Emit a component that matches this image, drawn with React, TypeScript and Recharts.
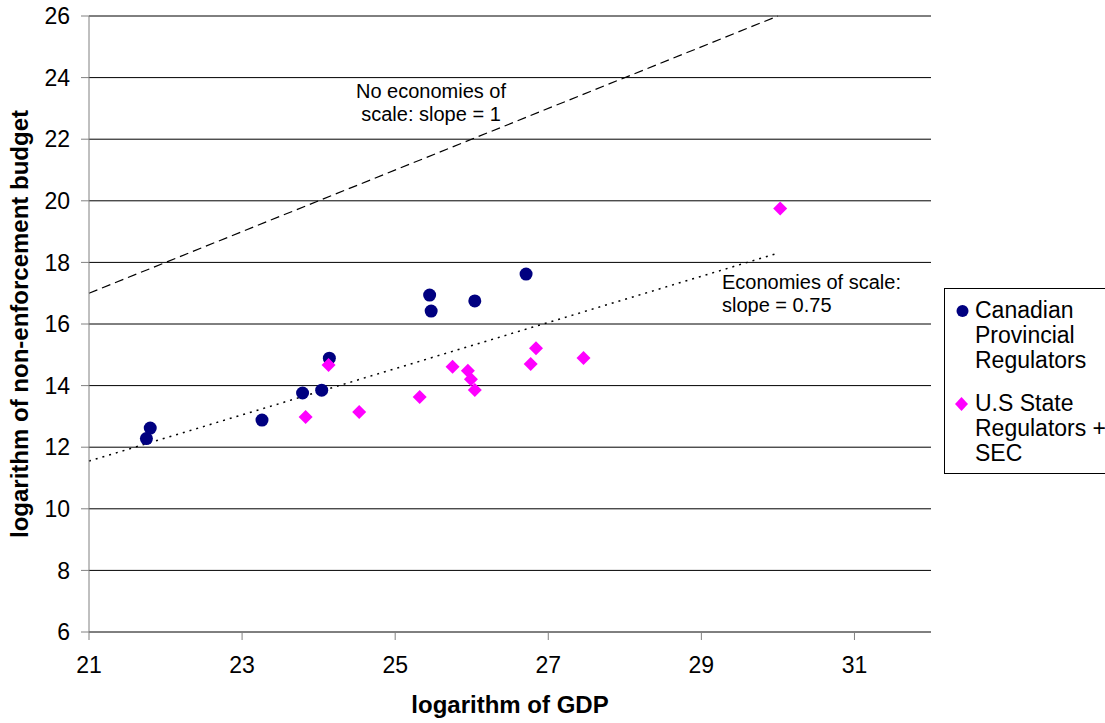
import React from "react";
import {
  ScatterChart, Scatter, XAxis, YAxis, CartesianGrid, ReferenceLine,
} from "recharts";

// Canadian provincial regulators (log GDP, log non-enforcement budget)
const canadianX = [21.75, 21.8, 23.26, 23.79, 24.04, 24.14, 25.45, 25.47, 26.04, 26.71];
const canadianY = [12.28, 12.62, 12.88, 13.76, 13.85, 14.89, 16.94, 16.42, 16.75, 17.62];

// U.S state regulators + SEC
const usX = [23.83, 24.13, 24.53, 25.32, 25.75, 25.95, 25.99, 26.04, 26.77, 26.84, 27.46, 30.03];
const usY = [12.98, 14.67, 13.14, 13.63, 14.61, 14.48, 14.21, 13.86, 14.7, 15.21, 14.9, 19.75];

// reference lines: slope 1 and slope 0.75
const slopeOneLine = [{ x: 21, y: 17 }, { x: 30, y: 26 }];
const slopeScaleLine = [{ x: 21, y: 11.55 }, { x: 30, y: 18.3 }];

const xTicks = [21, 23, 25, 27, 29, 31];
const yTicks = [6, 8, 10, 12, 14, 16, 18, 20, 22, 24, 26];

const canadian = canadianX.map((x, i) => ({ x, y: canadianY[i] }));
const us = usX.map((x, i) => ({ x, y: usY[i] }));

const FONT = '"Liberation Sans", Arial, sans-serif';

const NavyDot = (p: any) => (
  <circle cx={p.cx} cy={p.cy} r={6.5} fill="#000080" />
);

const PinkDiamond = (p: any) => {
  const { cx, cy } = p;
  const s = 7;
  return (
    <polygon
      points={`${cx},${cy - s} ${cx + s},${cy} ${cx},${cy + s} ${cx - s},${cy}`}
      fill="#FF00FF"
    />
  );
};

export default function App() {
  return (
    <div
      style={{
        position: "absolute", left: 0, top: 0, width: 1105, height: 723,
        overflow: "hidden", background: "#fff", fontFamily: FONT,
      }}
    >
      <ScatterChart
        width={1105}
        height={723}
        margin={{ top: 16, right: 174, bottom: 31, left: 10 }}
      >
        <CartesianGrid vertical={false} stroke="#000" horizontalValues={yTicks} />
        <XAxis
          type="number"
          dataKey="x"
          domain={[21, 32]}
          ticks={xTicks}
          allowDataOverflow
          height={60}
          stroke="#808080"
          tickSize={8}
          tickMargin={17}
          tick={{ fill: "#000", fontSize: 23, fontFamily: FONT }}
        />
        <YAxis
          type="number"
          dataKey="y"
          domain={[6, 26]}
          ticks={yTicks}
          allowDataOverflow
          width={79}
          stroke="#808080"
          tickSize={8}
          tickMargin={11}
          tick={{ fill: "#000", fontSize: 23, fontFamily: FONT }}
        />
        <ReferenceLine
          segment={slopeOneLine}
          stroke="#000"
          strokeWidth={1.2}
          strokeDasharray="9 5"
        />
        <ReferenceLine
          segment={slopeScaleLine}
          stroke="#000"
          strokeWidth={1.5}
          strokeDasharray="2 5"
        />
        <Scatter data={canadian} shape={NavyDot} isAnimationActive={false} />
        <Scatter data={us} shape={PinkDiamond} isAnimationActive={false} />
      </ScatterChart>

      {/* annotations */}
      <div
        style={{
          position: "absolute", left: 431, top: 80, transform: "translateX(-50%)",
          fontSize: 20, lineHeight: "23px", textAlign: "center", whiteSpace: "nowrap",
        }}
      >
        No economies of<br />scale: slope = 1
      </div>
      <div
        style={{
          position: "absolute", left: 722, top: 271,
          fontSize: 20, lineHeight: "23px", whiteSpace: "nowrap",
        }}
      >
        Economies of scale:<br />slope = 0.75
      </div>

      {/* axis titles */}
      <div
        style={{
          position: "absolute", left: 510, top: 705, transform: "translate(-50%, -50%)",
          fontSize: 24, fontWeight: "bold", whiteSpace: "nowrap",
        }}
      >
        logarithm of GDP
      </div>
      <div
        style={{
          position: "absolute", left: 20, top: 324,
          transform: "translate(-50%, -50%) rotate(-90deg)",
          fontSize: 24, fontWeight: "bold", whiteSpace: "nowrap",
        }}
      >
        logarithm of non-enforcement budget
      </div>

      {/* legend */}
      <div
        style={{
          position: "absolute", left: 944, top: 288, width: 200, height: 186,
          border: "1px solid #000", boxSizing: "border-box",
          fontSize: 23, lineHeight: "25px",
        }}
      >
        <div style={{ position: "absolute", left: 30, top: 9, whiteSpace: "nowrap" }}>
          Canadian<br />Provincial<br />Regulators
        </div>
        <svg style={{ position: "absolute", left: 10, top: 14 }} width={16} height={16}>
          <circle cx={7.5} cy={8} r={6} fill="#000080" />
        </svg>
        <div style={{ position: "absolute", left: 30, top: 102, whiteSpace: "nowrap" }}>
          U.S State<br />Regulators +<br />SEC
        </div>
        <svg style={{ position: "absolute", left: 9, top: 107 }} width={16} height={16}>
          <polygon points="7.5,1 14,8 7.5,15 1,8" fill="#FF00FF" />
        </svg>
      </div>
    </div>
  );
}
